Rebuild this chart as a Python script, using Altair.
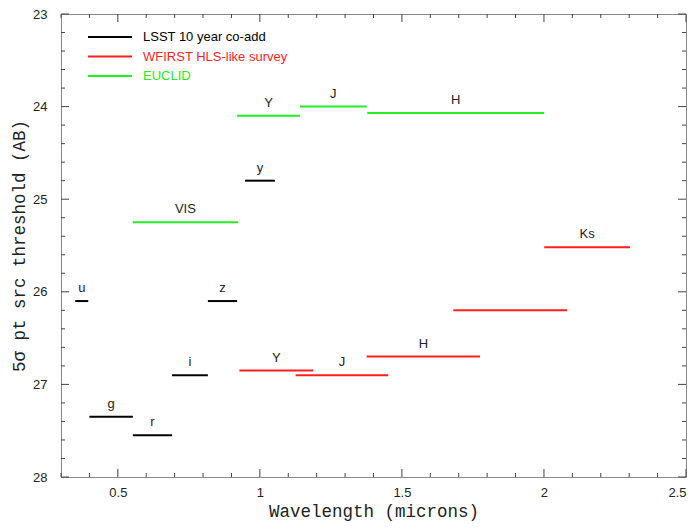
import altair as alt
import pandas as pd

# ---- data ----
surveys = (["LSST 10 year co-add"] * 6
           + ["WFIRST HLS-like survey"] * 5
           + ["EUCLID"] * 4)
bands = ["u", "g", "r", "i", "z", "y",
         "Y", "J", "H", "", "Ks",
         "VIS", "Y", "J", "H"]
lam_lo = [0.350, 0.400, 0.553, 0.691, 0.817, 0.948,
          0.928, 1.126, 1.376, 1.681, 2.001,
          0.553, 0.920, 1.141, 1.378]
lam_hi = [0.396, 0.553, 0.691, 0.817, 0.920, 1.053,
          1.188, 1.452, 1.775, 2.082, 2.303,
          0.923, 1.141, 1.376, 2.001]
depth = [26.10, 27.35, 27.55, 26.90, 26.10, 24.80,
         26.85, 26.90, 26.70, 26.20, 25.52,
         25.25, 24.10, 24.00, 24.07]

legend_order = ["LSST 10 year co-add", "WFIRST HLS-like survey", "EUCLID"]
legend_colors = ["#000000", "#ff1e1e", "#22ee22"]

x_major = [0.5, 1.0, 1.5, 2.0, 2.5]
x_minor = [0.3, 0.4, 0.6, 0.7, 0.8, 0.9, 1.1, 1.2, 1.3, 1.4, 1.6, 1.7,
           1.8, 1.9, 2.1, 2.2, 2.3, 2.4]
y_major = [23, 24, 25, 26, 27, 28]
y_minor = [23.2, 23.4, 23.6, 23.8, 24.2, 24.4, 24.6, 24.8, 25.2, 25.4,
           25.6, 25.8, 26.2, 26.4, 26.6, 26.8, 27.2, 27.4, 27.6, 27.8]

df = pd.DataFrame({"survey": surveys, "band": bands, "lo": lam_lo,
                   "hi": lam_hi, "mag": depth})
df["mid"] = (df["lo"] + df["hi"]) / 2

W, H = 625, 463
xs = alt.Scale(domain=[0.3, 2.5], nice=False, zero=False)
ys = alt.Scale(domain=[23, 28], reverse=True, nice=False, zero=False)
TICK = "#444444"

x_axis = alt.Axis(title="Wavelength (microns)", values=x_major, format="~g",
                  tickSize=0, domain=False, grid=False, labelPadding=9,
                  labelFont="Liberation Sans", labelFontSize=13,
                  labelColor="#222222", titleFont="Liberation Mono",
                  titleFontSize=17.5, titleFontWeight="normal",
                  titleColor="#222222", titlePadding=3)
y_axis = alt.Axis(title="5σ pt src threshold (AB)", values=y_major, format="d",
                  tickSize=0, domain=False, grid=False, labelPadding=14,
                  labelFont="Liberation Sans", labelFontSize=13,
                  labelColor="#222222", titleFont="Liberation Mono",
                  titleFontSize=17.5, titleFontWeight="normal",
                  titleColor="#222222", titlePadding=4)

seg = alt.Chart(df).mark_rule(strokeWidth=2).encode(
    x=alt.X("lo:Q", scale=xs, axis=x_axis),
    x2="hi:Q",
    y=alt.Y("mag:Q", scale=ys, axis=y_axis),
    color=alt.Color(
        "survey:N",
        scale=alt.Scale(domain=legend_order, range=legend_colors),
        legend=alt.Legend(
            title=None, orient="none", legendX=42.5, legendY=16.5,
            symbolType="M-4,0H4", symbolSize=121, symbolStrokeWidth=2,
            labelOffset=26.5, labelFont="Liberation Sans", labelFontSize=13,
            rowPadding=5.5, padding=0,
            labelColor={"expr": "scale('color', datum.value)"},
        ),
    ),
)

labels = alt.Chart(df).transform_filter("datum.band != ''").mark_text(
    font="Liberation Sans", fontSize=13, color="#222222",
    baseline="alphabetic", dy=-9,
).encode(
    x=alt.X("mid:Q", scale=xs, axis=x_axis),
    y=alt.Y("mag:Q", scale=ys, axis=y_axis),
    text="band:N",
)


def xticks(vals, length):
    d = pd.DataFrame({"v": vals})
    base = alt.Chart(d).mark_rule(color=TICK, strokeWidth=1)
    bot = base.encode(x=alt.X("v:Q", scale=xs, axis=x_axis),
                      y=alt.value(H), y2=alt.value(H - length))
    top = base.encode(x=alt.X("v:Q", scale=xs, axis=x_axis),
                      y=alt.value(0), y2=alt.value(length))
    return [bot, top]


def yticks(vals, length):
    d = pd.DataFrame({"v": vals})
    base = alt.Chart(d).mark_rule(color=TICK, strokeWidth=1)
    left = base.encode(y=alt.Y("v:Q", scale=ys, axis=y_axis),
                       x=alt.value(0), x2=alt.value(length))
    right = base.encode(y=alt.Y("v:Q", scale=ys, axis=y_axis),
                        x=alt.value(W), x2=alt.value(W - length))
    return [left, right]


layers = [seg, labels] + (xticks(x_major, 8) + xticks(x_minor, 4)
                          + yticks(y_major, 8) + yticks(y_minor, 4))

chart = alt.layer(*layers).properties(
    width=W, height=H,
    autosize=alt.AutoSizeParams(type="none"),
    padding={"left": 53, "top": 6, "right": 5, "bottom": 46},
    background="white",
).configure_view(stroke="#888888", strokeWidth=1)

chart.save("out.html", embed_options={"renderer": "svg", "actions": False})
